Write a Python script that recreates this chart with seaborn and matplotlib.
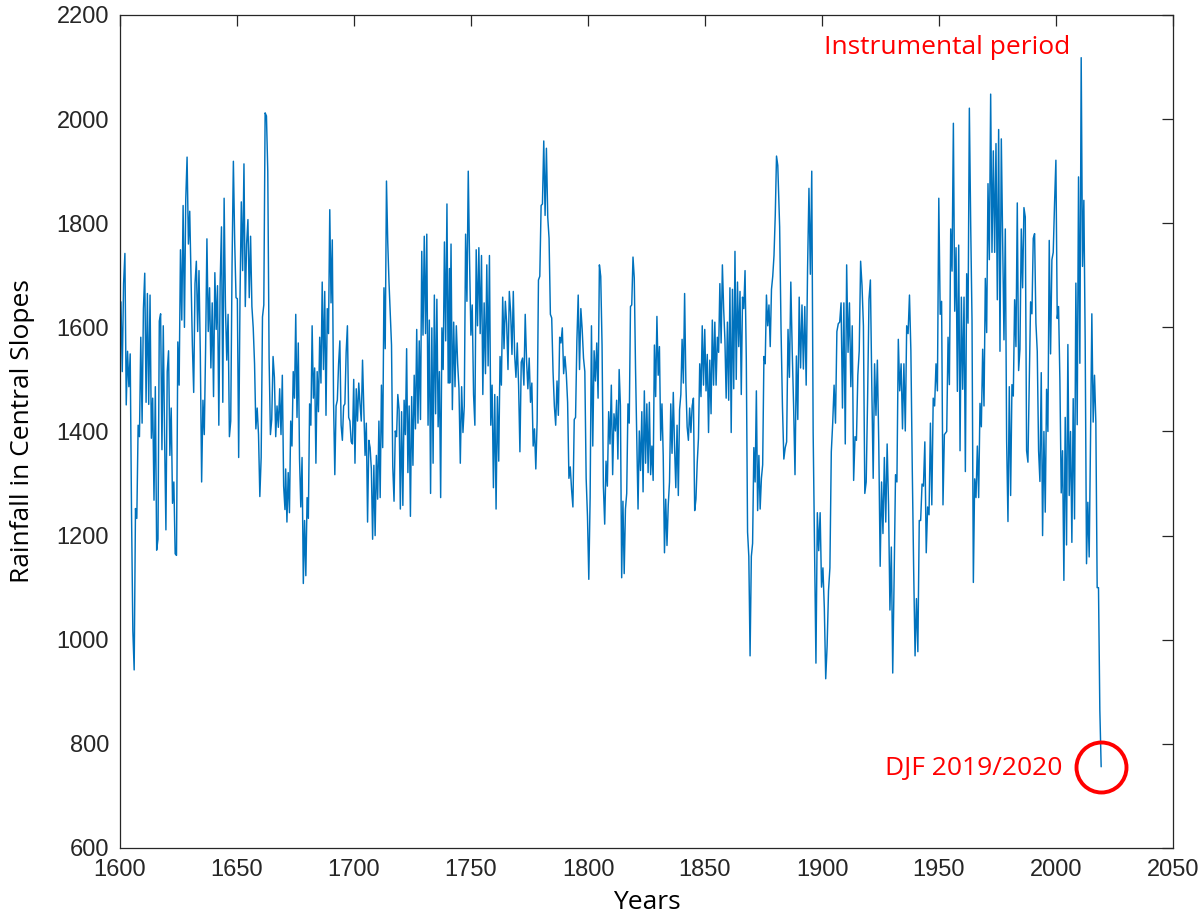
import numpy as np
import pandas as pd
import seaborn as sns
import matplotlib.pyplot as plt

# rainfall readings, split in chunks of ~70 years (start year, end year, values)
seg1_span = (1600.4, 1670.5)
seg1 = [1649, 1515, 1684, 1742, 1451, 1554, 1486, 1549, 1244, 1017, 942, 1252, 1233, 1412, 1390, 1581,
        1416, 1636, 1704, 1456, 1665, 1452, 1662, 1387, 1464, 1268, 1486, 1172, 1193, 1612, 1626, 1365,
        1603, 1390, 1211, 1515, 1555, 1354, 1445, 1262, 1303, 1165, 1162, 1572, 1489, 1749, 1614, 1834,
        1600, 1846, 1927, 1760, 1823, 1691, 1566, 1475, 1684, 1727, 1592, 1709, 1550, 1303, 1460, 1394,
        1559, 1770, 1592, 1676, 1522, 1647, 1467, 1705, 1596, 1680, 1412, 1685, 1793, 1456, 1848, 1640,
        1537, 1625, 1390, 1420, 1720, 1919, 1764, 1657, 1655, 1350, 1655, 1841, 1709, 1914, 1640, 1760,
        1807, 1657, 1775, 1640, 1599, 1530, 1405, 1445, 1394, 1275, 1350, 1620, 1643, 2012, 2006, 1900,
        1541, 1394, 1423, 1544, 1504, 1390, 1449, 1408, 1482, 1394, 1508, 1295, 1250]

seg2_span = (1670.8, 1740.8)
seg2 = [1328, 1226, 1321, 1244, 1420, 1372, 1515, 1464, 1625, 1427, 1570, 1347, 1255, 1350, 1108, 1229,
        1123, 1273, 1233, 1453, 1412, 1603, 1464, 1522, 1339, 1515, 1438, 1581, 1493, 1687, 1519, 1669,
        1431, 1636, 1588, 1826, 1647, 1768, 1456, 1317, 1449, 1460, 1530, 1574, 1412, 1383, 1449, 1453,
        1552, 1603, 1427, 1420, 1380, 1376, 1500, 1339, 1482, 1420, 1493, 1453, 1420, 1537, 1449, 1354,
        1416, 1226, 1383, 1369, 1328, 1193, 1335, 1200, 1354, 1270, 1420, 1273, 1489, 1369, 1676, 1559,
        1881, 1764, 1687, 1625, 1566, 1332, 1266, 1401, 1390, 1471, 1442, 1251, 1438, 1258, 1460, 1394,
        1559, 1321, 1449, 1237, 1467, 1335, 1508, 1405, 1596, 1416, 1574, 1423, 1746, 1585, 1775, 1588,
        1779, 1412, 1614, 1281, 1599, 1339, 1662, 1434, 1654, 1409, 1515, 1273, 1599, 1519, 1764, 1574,
        1837, 1493, 1713]

seg3_span = (1740.9, 1811.1)
seg3 = [1493, 1760, 1442, 1610, 1486, 1603, 1530, 1482, 1339, 1486, 1398, 1449, 1779, 1650, 1900, 1727,
        1585, 1643, 1471, 1412, 1749, 1603, 1753, 1588, 1738, 1471, 1647, 1511, 1720, 1526, 1738, 1412,
        1489, 1292, 1471, 1251, 1467, 1343, 1544, 1489, 1658, 1559, 1650, 1607, 1519, 1669, 1629, 1548,
        1669, 1548, 1504, 1570, 1489, 1361, 1533, 1541, 1489, 1625, 1537, 1482, 1541, 1456, 1493, 1372,
        1405, 1328, 1420, 1691, 1698, 1834, 1837, 1958, 1815, 1944, 1812, 1771, 1625, 1618, 1515, 1449,
        1412, 1497, 1431, 1581, 1570, 1599, 1511, 1544, 1511, 1456, 1310, 1332, 1288, 1255, 1423, 1427,
        1574, 1662, 1519, 1636, 1596, 1541, 1515, 1310, 1237, 1116, 1273, 1603, 1372, 1555, 1497, 1570,
        1464, 1720, 1698, 1566, 1295, 1222, 1343, 1295, 1438, 1376, 1489, 1317, 1434]

seg4_span = (1811.7, 1881.1)
seg4 = [1401, 1460, 1347, 1519, 1449, 1119, 1266, 1127, 1251, 1281, 1453, 1416, 1640, 1643, 1735, 1695,
        1522, 1383, 1251, 1401, 1325, 1438, 1284, 1478, 1339, 1453, 1321, 1456, 1317, 1372, 1306, 1566,
        1467, 1621, 1508, 1563, 1383, 1453, 1354, 1167, 1270, 1181, 1259, 1303, 1453, 1358, 1475, 1372,
        1292, 1412, 1277, 1442, 1471, 1577, 1493, 1665, 1493, 1409, 1383, 1445, 1398, 1449, 1464, 1248,
        1270, 1339, 1387, 1530, 1467, 1603, 1489, 1596, 1478, 1548, 1398, 1537, 1434, 1614, 1489, 1610,
        1489, 1581, 1552, 1684, 1570, 1720, 1636, 1577, 1464, 1610, 1460, 1676, 1398, 1673, 1482, 1746,
        1500, 1687, 1563, 1669, 1471, 1658, 1636, 1709, 1537, 1207, 1160, 969, 1160, 1185, 1369, 1303,
        1478, 1248, 1354, 1251, 1310, 1336, 1544, 1530, 1662, 1603, 1643, 1563, 1673, 1698, 1738, 1815,
        1929, 1911]

seg5_span = (1881.9, 1952.3)
seg5 = [1793, 1596, 1449, 1347, 1369, 1380, 1596, 1504, 1687, 1555, 1449, 1317, 1545, 1423, 1658, 1522,
        1643, 1520, 1640, 1489, 1713, 1867, 1702, 1900, 1398, 1182, 955, 1244, 1171, 1244, 1101, 1138,
        1061, 925, 988, 1094, 1138, 1361, 1416, 1489, 1416, 1592, 1607, 1610, 1647, 1445, 1647, 1376,
        1720, 1552, 1647, 1486, 1603, 1306, 1390, 1383, 1508, 1555, 1727, 1680, 1603, 1281, 1303, 1464,
        1654, 1691, 1489, 1310, 1530, 1431, 1537, 1376, 1141, 1303, 1204, 1350, 1226, 1376, 1259, 1057,
        1178, 936, 1119, 1317, 1303, 1577, 1478, 1530, 1405, 1530, 1401, 1603, 1588, 1662, 1555, 1328,
        1134, 969, 1079, 977, 1229, 1229, 1299, 1295, 1380, 1167, 1255, 1240, 1416, 1259, 1464, 1449,
        1530, 1478, 1848, 1625, 1650, 1259, 1394]

seg6_span = (1953.3, 2019.3)
seg6 = [1400, 1581, 1490, 1789, 1708, 1992, 1631, 1753, 1477, 1758, 1363, 1658, 1481, 1658, 1323, 1703,
        1608, 2021, 1798, 1613, 1110, 1309, 1273, 1372, 1273, 1454, 1409, 1558, 1449, 1694, 1590, 1876,
        1730, 2048, 1744, 1939, 1744, 1953, 1653, 1980, 1554, 1962, 1762, 1576, 1789, 1382, 1227, 1486,
        1277, 1490, 1468, 1653, 1563, 1839, 1517, 1558, 1789, 1676, 1830, 1812, 1363, 1341, 1490, 1649,
        1626, 1771, 1780, 1608, 1554, 1363, 1304, 1513, 1200, 1400, 1245, 1481, 1400, 1767, 1549, 1730,
        1744, 1839, 1921, 1617, 1640, 1499, 1282, 1363, 1114, 1427, 1182, 1567, 1277, 1400, 1187, 1463,
        1232, 1685, 1413, 1889, 1531, 2118, 1717, 1844, 1572, 1146, 1264, 1159, 1382, 1626, 1418, 1508,
        1418, 1100, 1100, 865, 756]

segments = [(seg1_span, seg1), (seg2_span, seg2), (seg3_span, seg3),
            (seg4_span, seg4), (seg5_span, seg5), (seg6_span, seg6)]

years = np.concatenate([np.linspace(s[0], s[1], len(v)) for s, v in segments])
rain = np.concatenate([np.array(v, dtype=float) for s, v in segments])
df = pd.DataFrame({"year": years, "rain": rain})

sns.set_theme(style="white")
plt.rcParams['font.family'] = ['Liberation Sans', 'DejaVu Sans']
label_font = ["Open Sans", "DejaVu Sans"]

fig = plt.figure(figsize=(12, 9.19), dpi=100)
ax = fig.add_axes([0.1, 0.0773, 0.8775, 0.9064])

sns.lineplot(data=df, x="year", y="rain", ax=ax, color="#0072BD", linewidth=1.05,
             sort=False, estimator=None)

# red circle around the last (DJF 2019/2020) value
ax.plot(years[-1], rain[-1], marker="o", markersize=36, markerfacecolor="none",
        markeredgecolor="red", markeredgewidth=2.8, linestyle="none")

ax.text(1953.5, 2138, "Instrumental period", color="red", fontsize=19,
        ha="center", va="center", family=label_font)
ax.text(2002.6, 752, "DJF 2019/2020", color="red", fontsize=19,
        ha="right", va="center", family=label_font)

ax.set_xlim(1600, 2050)
ax.set_ylim(600, 2200)
ax.set_xticks(np.arange(1600, 2051, 50))
ax.set_yticks(np.arange(600, 2201, 200))

ax.set_xlabel("Years", fontsize=19, family=label_font, color="black")
ax.set_ylabel("Rainfall in Central Slopes", fontsize=19, family=label_font, color="black")
ax.xaxis.set_label_coords(0.5, -0.05)
ax.yaxis.set_label_coords(-0.081, 0.5)

for side in ax.spines.values():
    side.set_color("#262626")
    side.set_linewidth(0.9)
ax.tick_params(direction="in", length=8, width=0.9, colors="#262626", labelsize=17,
               top=True, right=True, pad=8)

fig.savefig("out.png", dpi=100)
